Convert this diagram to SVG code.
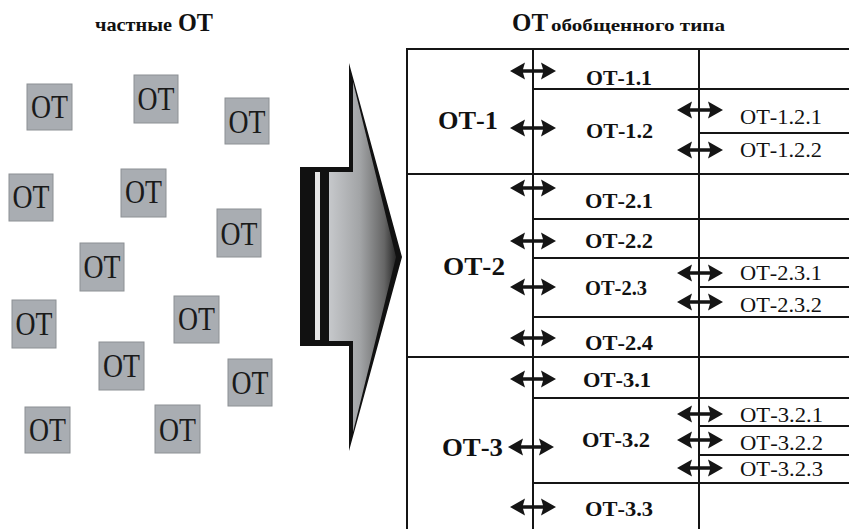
<svg xmlns="http://www.w3.org/2000/svg" width="849" height="529" viewBox="0 0 849 529">
<style>
  .box rect { fill: #a9adb2; stroke: #8c9094; stroke-width: 1; }
  .box text { font-family: "Liberation Serif", "DejaVu Serif", serif; font-size: 33px; fill: #1a1a1a; text-anchor: middle; }
  .hdr { font-family: "Liberation Serif", "DejaVu Serif", serif; font-weight: bold; fill: #111; }
  .l1 { font-family: "Liberation Serif", "DejaVu Serif", serif; font-weight: bold; font-size: 26px; fill: #111; }
  .l2 { font-family: "Liberation Serif", "DejaVu Serif", serif; font-weight: bold; font-size: 22px; fill: #111; }
  .l3 { font-family: "Liberation Serif", "DejaVu Serif", serif; font-size: 22px; fill: #111; }
  .ln { stroke: #151515; stroke-width: 2; fill: none; }
  .arr { fill: #151515; }
</style>
<defs>
  <linearGradient id="g" x1="329" y1="0" x2="398" y2="0" gradientUnits="userSpaceOnUse">
    <stop offset="0" stop-color="#c6c8cb"/>
    <stop offset="0.45" stop-color="#a2a4a6"/>
    <stop offset="0.8" stop-color="#666"/>
    <stop offset="1" stop-color="#1e1e1e"/>
  </linearGradient>
  <path id="da" d="M-23,0 L-8,-8.5 L-10,-1.8 L10,-1.8 L8,-8.5 L23,0 L8,8.5 L10,1.8 L-10,1.8 L-8,8.5 Z"/>
</defs>
<rect width="849" height="529" fill="#ffffff"/>

<g id="title-left"><text class="hdr" x="95" y="31" font-size="19" textLength="77" lengthAdjust="spacingAndGlyphs">частные</text><text class="hdr" x="178" y="31" font-size="25" textLength="35" lengthAdjust="spacingAndGlyphs">ОТ</text></g>
<g id="title-right"><text class="hdr" x="512" y="31" font-size="25" textLength="36" lengthAdjust="spacingAndGlyphs">ОТ</text><text class="hdr" x="551" y="31" font-size="17" textLength="174" lengthAdjust="spacingAndGlyphs">обобщенного типа</text></g>

<g id="ot-01" class="box"><rect x="27" y="84" width="45" height="46"/><text x="49.5" y="118" textLength="37" lengthAdjust="spacingAndGlyphs">ОТ</text></g>
<g id="ot-02" class="box"><rect x="134" y="75" width="44" height="48"/><text x="156" y="110" textLength="37" lengthAdjust="spacingAndGlyphs">ОТ</text></g>
<g id="ot-03" class="box"><rect x="225" y="98" width="44" height="46"/><text x="247" y="133" textLength="37" lengthAdjust="spacingAndGlyphs">ОТ</text></g>
<g id="ot-04" class="box"><rect x="9" y="174" width="44" height="47"/><text x="31" y="208" textLength="37" lengthAdjust="spacingAndGlyphs">ОТ</text></g>
<g id="ot-05" class="box"><rect x="121" y="169" width="45" height="48"/><text x="143.5" y="203" textLength="37" lengthAdjust="spacingAndGlyphs">ОТ</text></g>
<g id="ot-06" class="box"><rect x="217" y="209" width="44" height="48"/><text x="239" y="245" textLength="37" lengthAdjust="spacingAndGlyphs">ОТ</text></g>
<g id="ot-07" class="box"><rect x="80" y="243" width="44" height="48"/><text x="102" y="278" textLength="37" lengthAdjust="spacingAndGlyphs">ОТ</text></g>
<g id="ot-08" class="box"><rect x="12" y="300" width="44" height="48"/><text x="34" y="335" textLength="37" lengthAdjust="spacingAndGlyphs">ОТ</text></g>
<g id="ot-09" class="box"><rect x="174" y="296" width="45" height="47"/><text x="196.5" y="330" textLength="37" lengthAdjust="spacingAndGlyphs">ОТ</text></g>
<g id="ot-10" class="box"><rect x="99" y="342" width="45" height="48"/><text x="121.5" y="377" textLength="37" lengthAdjust="spacingAndGlyphs">ОТ</text></g>
<g id="ot-11" class="box"><rect x="228" y="359" width="44" height="47"/><text x="250" y="394" textLength="37" lengthAdjust="spacingAndGlyphs">ОТ</text></g>
<g id="ot-12" class="box"><rect x="25" y="407" width="45" height="46"/><text x="47.5" y="441" textLength="37" lengthAdjust="spacingAndGlyphs">ОТ</text></g>
<g id="ot-13" class="box"><rect x="155" y="405" width="45" height="48"/><text x="177.5" y="441" textLength="37" lengthAdjust="spacingAndGlyphs">ОТ</text></g>

<g id="big-arrow">
  <polygon points="300,167 349,167 349,63 402,257 349,451 349,346 300,346" fill="#111"/>
  <polygon points="329,172 353,172 353,82 396,257 353,432 353,341 329,341" fill="url(#g)"/>
  <rect x="315" y="172" width="5" height="168" fill="#e6e6e6"/>
</g>

<g id="table">
  <path class="ln" d="M407,49 H849" stroke-width="3"/>
  <path class="ln" d="M407,48 V529 M533,48 V529 M699,48 V529"/>
  <path class="ln" d="M407,174 H849 M407,357 H849"/>
  <path class="ln" d="M533,89 H849 M533,219 H849 M533,258 H849 M533,317 H849 M533,398 H849 M533,483 H849"/>
  <path class="ln" d="M699,133 H849 M699,287 H849 M699,426 H849 M699,455 H849"/>
</g>

<g id="ot-1"><text class="l1" x="438" y="129" textLength="60" lengthAdjust="spacingAndGlyphs">ОТ-1</text></g>
<g id="ot-2"><text class="l1" x="443" y="275" textLength="62" lengthAdjust="spacingAndGlyphs">ОТ-2</text></g>
<g id="ot-3"><text class="l1" x="442" y="456" textLength="61" lengthAdjust="spacingAndGlyphs">ОТ-3</text></g>

<g id="ot-1-1"><text class="l2" x="586" y="85" textLength="66" lengthAdjust="spacingAndGlyphs">ОТ-1.1</text></g>
<g id="ot-1-2"><text class="l2" x="586" y="138" textLength="67" lengthAdjust="spacingAndGlyphs">ОТ-1.2</text></g>
<g id="ot-2-1"><text class="l2" x="585" y="208" textLength="68" lengthAdjust="spacingAndGlyphs">ОТ-2.1</text></g>
<g id="ot-2-2"><text class="l2" x="585" y="248" textLength="68" lengthAdjust="spacingAndGlyphs">ОТ-2.2</text></g>
<g id="ot-2-3"><text class="l2" x="585" y="295" textLength="62" lengthAdjust="spacingAndGlyphs">ОТ-2.3</text></g>
<g id="ot-2-4"><text class="l2" x="585" y="350" textLength="68" lengthAdjust="spacingAndGlyphs">ОТ-2.4</text></g>
<g id="ot-3-1"><text class="l2" x="583" y="387" textLength="68" lengthAdjust="spacingAndGlyphs">ОТ-3.1</text></g>
<g id="ot-3-2"><text class="l2" x="582" y="447" textLength="68" lengthAdjust="spacingAndGlyphs">ОТ-3.2</text></g>
<g id="ot-3-3"><text class="l2" x="585" y="516" textLength="68" lengthAdjust="spacingAndGlyphs">ОТ-3.3</text></g>

<g id="ot-1-2-1"><text class="l3" x="740" y="124" textLength="82" lengthAdjust="spacingAndGlyphs">ОТ-1.2.1</text></g>
<g id="ot-1-2-2"><text class="l3" x="740" y="157" textLength="82" lengthAdjust="spacingAndGlyphs">ОТ-1.2.2</text></g>
<g id="ot-2-3-1"><text class="l3" x="740" y="280" textLength="82" lengthAdjust="spacingAndGlyphs">ОТ-2.3.1</text></g>
<g id="ot-2-3-2"><text class="l3" x="740" y="312" textLength="82" lengthAdjust="spacingAndGlyphs">ОТ-2.3.2</text></g>
<g id="ot-3-2-1"><text class="l3" x="740" y="422" textLength="83" lengthAdjust="spacingAndGlyphs">ОТ-3.2.1</text></g>
<g id="ot-3-2-2"><text class="l3" x="740" y="450" textLength="83" lengthAdjust="spacingAndGlyphs">ОТ-3.2.2</text></g>
<g id="ot-3-2-3"><text class="l3" x="740" y="476" textLength="83" lengthAdjust="spacingAndGlyphs">ОТ-3.2.3</text></g>

<g id="connectors" class="arr">
  <use href="#da" x="533" y="71"/>
  <use href="#da" x="533" y="128"/>
  <use href="#da" x="533" y="188"/>
  <use href="#da" x="533" y="241"/>
  <use href="#da" x="533" y="287"/>
  <use href="#da" x="533" y="338"/>
  <use href="#da" x="533" y="379"/>
  <use href="#da" x="531" y="447"/>
  <use href="#da" x="533" y="507"/>
  <use href="#da" x="700" y="110"/>
  <use href="#da" x="700" y="150"/>
  <use href="#da" x="700" y="273"/>
  <use href="#da" x="700" y="302"/>
  <use href="#da" x="700" y="414"/>
  <use href="#da" x="700" y="440"/>
  <use href="#da" x="700" y="468"/>
</g>
</svg>
